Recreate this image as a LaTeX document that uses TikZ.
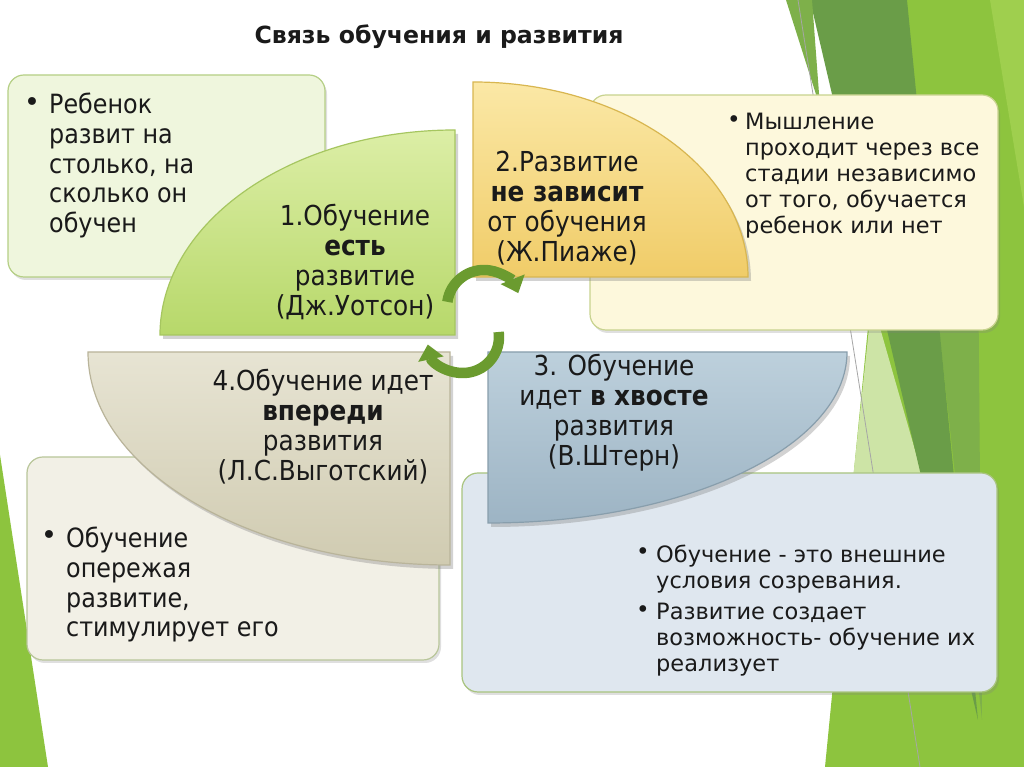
\documentclass[tikz,border=0pt]{standalone}
\usepackage{fontspec}
\setmainfont{DejaVu Sans}
\newfontfamily\condfont{DejaVu Sans Condensed}
\usetikzlibrary{shadows,arrows.meta}
\definecolor{brightg}{HTML}{8DC43E}
\definecolor{lightg}{HTML}{9FCF4E}
\definecolor{darkg}{HTML}{6A9D48}
\definecolor{medg}{HTML}{7EB04A}
\definecolor{paleg}{HTML}{CDE4A6}
\definecolor{arrowg}{HTML}{6B9B2F}
\definecolor{txt}{HTML}{1A1A1A}
\definecolor{boxAfill}{HTML}{EFF6DD}\definecolor{boxAdraw}{HTML}{B5CF85}
\definecolor{boxBfill}{HTML}{FDF8DC}\definecolor{boxBdraw}{HTML}{C8D38F}
\definecolor{boxCfill}{HTML}{DFE7EF}\definecolor{boxCdraw}{HTML}{A9C47F}
\definecolor{boxDfill}{HTML}{F2F0E6}\definecolor{boxDdraw}{HTML}{B9C69A}
\definecolor{qAtop}{HTML}{DCEEA6}\definecolor{qAbot}{HTML}{B7D86A}\definecolor{qAdraw}{HTML}{A6C660}
\definecolor{qBtop}{HTML}{FBE8A6}\definecolor{qBbot}{HTML}{F0CC68}\definecolor{qBdraw}{HTML}{D8B650}
\definecolor{qCtop}{HTML}{BDD0DC}\definecolor{qCbot}{HTML}{9DB4C4}\definecolor{qCdraw}{HTML}{889EAC}
\definecolor{qDtop}{HTML}{E7E4D3}\definecolor{qDbot}{HTML}{D0CBB1}\definecolor{qDdraw}{HTML}{B9B49A}
\tikzset{
  box/.style={rounded corners=16pt, line width=1.2pt,
    drop shadow={shadow xshift=2pt, shadow yshift=-3pt, opacity=0.25}},
  quarter/.style={line width=1.2pt,
    drop shadow={shadow xshift=3pt, shadow yshift=-4pt, opacity=0.35}},
  bodytext/.style={text=txt, inner sep=0pt, align=left,
    font=\condfont\fontsize{26.5}{29.7}\selectfont},
  smalltext/.style={text=txt, inner sep=0pt, align=left,
    font=\fontsize{22.5}{26}\selectfont},
  qtext/.style={text=txt, inner sep=0pt, align=center,
    font=\condfont\fontsize{27.5}{30}\selectfont},
  bulletmark/.style={text=txt, inner sep=0pt, font=\fontsize{27}{27}\selectfont},
  smallbullet/.style={text=txt, inner sep=0pt, font=\fontsize{23}{23}\selectfont},
  turnarrow/.style={draw=arrowg, line width=10.5pt,
    -{Triangle[width=25pt,length=15pt]}},
}
\begin{document}
\begin{tikzpicture}[x=1pt,y=1pt]
\useasboundingbox (0,0) rectangle (1024,767);
\fill[white] (0,0) rectangle (1024,767);

% decorative stripes right
\fill[brightg] (900,767) -- (1024,767) -- (1024,0) -- (825,0) -- cycle;
\fill[lightg] (990,767) -- (1024,767) -- (1024,560) -- cycle;
\fill[paleg] (872,467) -- (935,247) -- (846,222) -- cycle;
\fill[medg] (930,520) -- (978,520) -- (982,47) -- cycle;
\fill[darkg] (810,767) -- (907,767) -- (978,47) -- cycle;
\fill[medg] (786,767) -- (812,767) -- (820,660) -- cycle;
\draw[gray!70, line width=0.8pt] (798,767) -- (920,0);
% decorative stripe left
\fill[brightg] (0,312) -- (48,0) -- (0,0) -- cycle;

% title
\node[font=\fontsize{23.6}{28}\selectfont\bfseries, text=txt] (title) at (439,730) {Связь обучения и развития};

% boxes
\draw[box, fill=boxAfill, draw=boxAdraw] (8,490) rectangle (325,692);
\draw[box, fill=boxBfill, draw=boxBdraw] (590,437) rectangle (998,672);
\draw[box, fill=boxCfill, draw=boxCdraw] (462,75) rectangle (997,294);
\draw[box, fill=boxDfill, draw=boxDdraw] (27,107) rectangle (439,310);

% quarter shapes
\draw[quarter, top color=qAtop, bottom color=qAbot, draw=qAdraw]
  (455,432) -- (160,432) arc[start angle=180, end angle=90, x radius=295, y radius=205] -- cycle;
\draw[quarter, top color=qBtop, bottom color=qBbot, draw=qBdraw]
  (473,490) -- (748,490) arc[start angle=0, end angle=90, x radius=275, y radius=195] -- cycle;
\draw[quarter, top color=qCtop, bottom color=qCbot, draw=qCdraw]
  (488,415) -- (847,415) arc[start angle=0, end angle=-90, x radius=359, y radius=171] -- cycle;
\draw[quarter, top color=qDtop, bottom color=qDbot, draw=qDdraw]
  (450,415) -- (88,415) arc[start angle=180, end angle=270, x radius=362, y radius=213] -- cycle;

% box 1
\node[bulletmark] (b1) at (32,662) {•};
\node[bodytext, anchor=north west] (t1) at (49,674)
  {Ребенок\\развит на\\столько, на\\сколько он\\обучен};
% quarter 1
\node[qtext] (q1) at (355,505) {1.Обучение\\\textbf{есть}\\развитие\\(Дж.Уотсон)};
% quarter 2
\node[qtext] (q2) at (567,559) {2.Развитие\\\textbf{не зависит}\\от обучения\\(Ж.Пиаже)};
% box 2
\node[smallbullet] (b2) at (734,645) {•};
\node[smalltext, anchor=north west] (t2) at (745,654)
  {Мышление\\проходит через все\\стадии независимо\\от того, обучается\\ребенок или нет};
% quarter 3
\node[qtext] (q3) at (614,354) {3. Обучение\\идет \textbf{в хвосте}\\развития\\(В.Штерн)};
% quarter 4
\node[qtext] (q4) at (323,340) {4.Обучение идет\\\textbf{впереди}\\развития\\(Л.С.Выготский)};
% box 4
\node[bulletmark] (b4) at (49,229) {•};
\node[bodytext, anchor=north west] (t4) at (66,240)
  {Обучение\\опережая\\развитие,\\стимулирует его};
% box 3
\node[smallbullet] (b3a) at (643,213) {•};
\node[smalltext, anchor=north west] (t3a) at (656,222)
  {Обучение - это внешние\\условия созревания.};
\node[smallbullet] (b3b) at (643,155) {•};
\node[smalltext, anchor=north west] (t3b) at (656,164)
  {Развитие создает\\возможность- обучение их\\реализует};

% circular arrows
\coordinate (c1) at (484,460);
\coordinate (c2) at (463,430);
\draw[turnarrow] ([shift={(172:37)}]c1) arc[start angle=172, end angle=22, radius=37];
\draw[turnarrow] ([shift={(8:36)}]c2) arc[start angle=8, end angle=-168, radius=36];
\end{tikzpicture}
\end{document}
